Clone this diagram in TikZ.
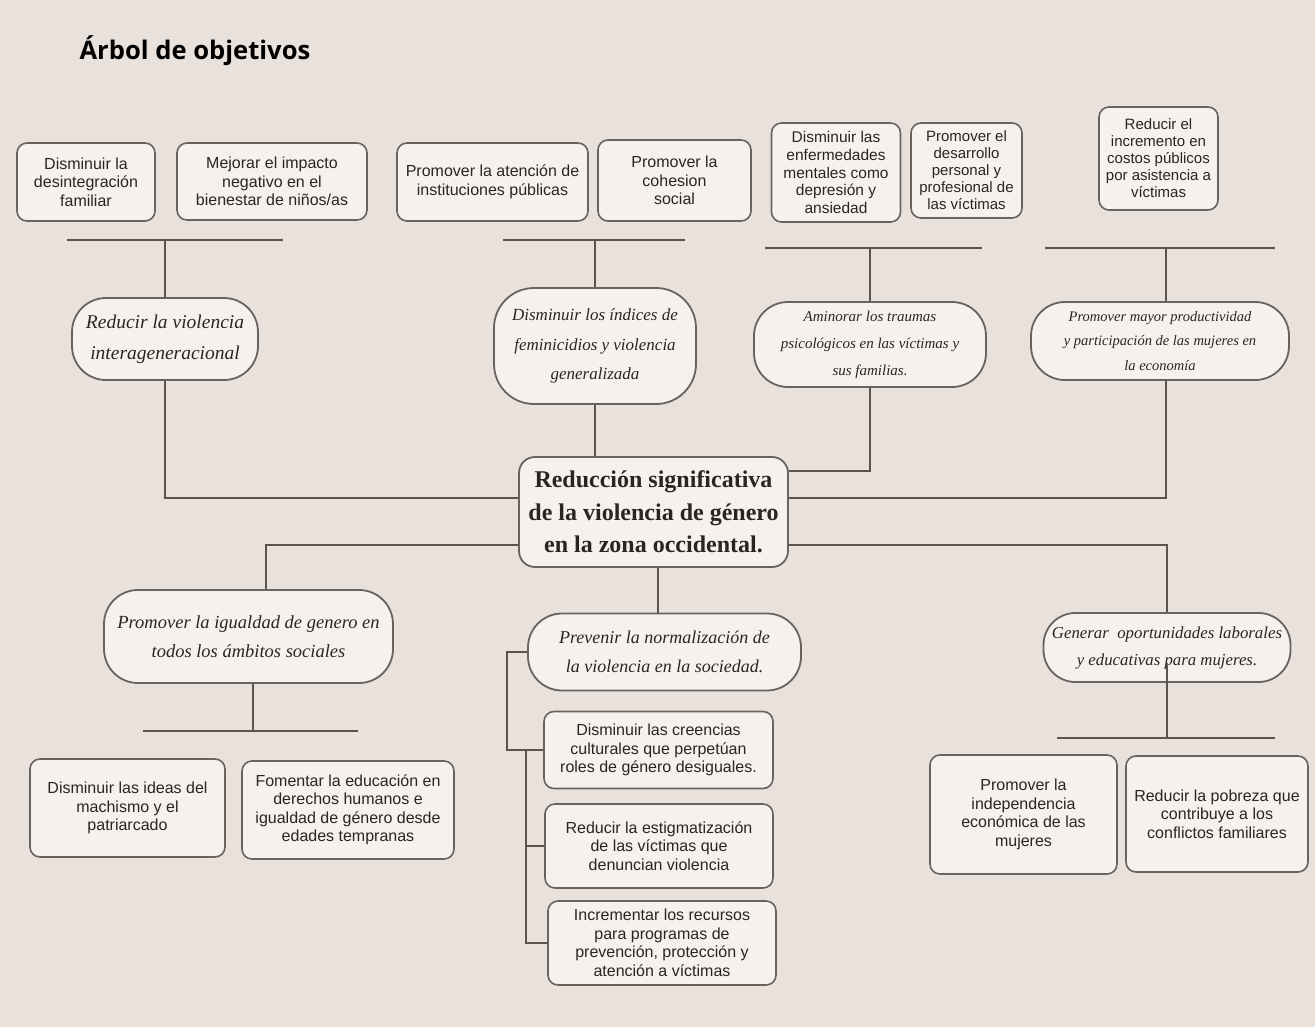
\documentclass[tikz,border=0pt]{standalone}
\usepackage{fontspec}
\setmainfont{Liberation Serif}
\newfontfamily\sansf{Liberation Sans}
\newfontfamily\titlef{Open Sans}
\newcommand\myfs[2]{\fontsize{#1}{#2}\selectfont}
\definecolor{bgc}{HTML}{E8E1DC}
\definecolor{boxc}{HTML}{F5F1EF}
\definecolor{bordc}{HTML}{6A625D}
\definecolor{linec}{HTML}{5B534E}
\definecolor{txtc}{HTML}{2A2522}
\begin{document}
\begin{tikzpicture}[x=1pt,y=-1pt,
  box/.style={draw=bordc, fill=boxc, line width=1.6pt, rounded corners=10pt, align=center, inner sep=0pt, text=txtc, font=\sansf\myfs{16}{18.5}},
  pill/.style={draw=bordc, fill=boxc, line width=1.8pt, rounded corners=34pt, align=center, inner sep=0pt, text=txtc},
  conn/.style={draw=linec, line width=2pt}]
\fill[bgc] (0,0) rectangle (1315,1027);
\useasboundingbox (0,0) rectangle (1315,1027);

\node[anchor=base west, font=\titlef\bfseries\myfs{25.6}{30}, text=black] (title) at (76,60) {Árbol de objetivos};

% top row boxes
\node[box, minimum width=138, minimum height=78] (b1) at (86,182) {Disminuir la\\desintegración\\familiar};
\node[box, minimum width=190, minimum height=77] (b2) at (272,181.5) {Mejorar el impacto\\negativo en el\\bienestar de niños/as};
\node[box, minimum width=191, minimum height=78] (b3) at (492.5,182) {Promover la atención de\\instituciones públicas};
\node[box, minimum width=153, minimum height=81] (b4) at (674.5,180.5) {Promover la\\cohesion\\social};
\node[box, minimum width=129, minimum height=99, font=\sansf\myfs{15.5}{17.8}] (b5) at (836,172.5) {Disminuir las\\enfermedades\\mentales como\\depresión y\\ansiedad};
\node[box, minimum width=111, minimum height=95, font=\sansf\myfs{15}{17}] (b6) at (966.5,170.5) {Promover el\\desarrollo\\personal y\\profesional de\\las víctimas};
\node[box, minimum width=119, minimum height=103, font=\sansf\myfs{15}{17}] (b7) at (1158.5,158.5) {Reducir el\\incremento en\\costos públicos\\por asistencia a\\víctimas};

% middle row pills
\node[pill, minimum width=186, minimum height=82, font=\itshape\myfs{19.5}{31}] (A) at (165,339) {Reducir la violencia\\interageneracional};
\node[pill, minimum width=202, minimum height=116, rounded corners=40pt, font=\itshape\myfs{17}{29.5}] (B) at (595,346) {Disminuir los índices de\\feminicidios y violencia\\generalizada};
\node[pill, minimum width=232, minimum height=85, font=\itshape\myfs{15}{27}] (C) at (870,344.5) {Aminorar los traumas\\psicológicos en las víctimas y\\sus familias.};
\node[pill, minimum width=258, minimum height=78, font=\itshape\myfs{14.5}{24.5}] (D) at (1160,341) {Promover mayor productividad\\y participación de las mujeres en\\la economía};

% center
\node[draw=bordc, fill=boxc, line width=1.8pt, rounded corners=16pt, align=center, inner sep=0pt, text=txtc, minimum width=269, minimum height=110, font=\bfseries\myfs{24}{32.5}] (Z) at (653.5,512) {Reducción significativa\\de la violencia de género\\en la zona occidental.};

% lower pills
\node[pill, minimum width=289, minimum height=93, font=\itshape\myfs{18.5}{29}] (E) at (248.5,636.5) {Promover la igualdad de genero en\\todos los ámbitos sociales};
\node[pill, minimum width=273, minimum height=77, font=\itshape\myfs{18}{29}] (F) at (664.5,652) {Prevenir la normalización de\\la violencia en la sociedad.};
\node[pill, minimum width=247, minimum height=69, rounded corners=32pt, font=\itshape\myfs{16.8}{27}] (G) at (1167,647.5) {Generar\ \ oportunidades laborales\\y educativas para mujeres.};

% bottom boxes
\node[box, minimum width=195, minimum height=98] (H) at (127.5,808) {Disminuir las ideas del\\machismo y el\\patriarcado};
\node[box, minimum width=212, minimum height=98] (I) at (348,810) {Fomentar la educación en\\derechos humanos e\\igualdad de género desde\\edades tempranas};
\node[box, minimum width=187, minimum height=119] (J) at (1023.5,814.5) {Promover la\\independencia\\económica de las\\mujeres};
\node[box, minimum width=182, minimum height=116] (K) at (1217,814) {Reducir la pobreza que\\contribuye a los\\conflictos familiares};
\node[box, minimum width=229, minimum height=77] (L1) at (658.5,750) {Disminuir las creencias\\culturales que perpetúan\\roles de género desiguales.};
\node[box, minimum width=228, minimum height=84] (L2) at (659,846) {Reducir la estigmatización\\de las víctimas que\\denuncian violencia};
\node[box, minimum width=228, minimum height=84] (L3) at (662,943) {Incrementar los recursos\\para programas de\\prevención, protección y\\atención a víctimas};

% bars
\coordinate (bar1l) at (67,240);   \coordinate (bar1r) at (283,240);
\coordinate (bar2l) at (503,240);  \coordinate (bar2r) at (685,240);
\coordinate (bar3l) at (765,248);  \coordinate (bar3r) at (982,248);
\coordinate (bar4l) at (1045,248); \coordinate (bar4r) at (1275,248);
\coordinate (bar5l) at (143,731);  \coordinate (bar5r) at (358,731);
\coordinate (bar6l) at (1057,738); \coordinate (bar6r) at (1275,738);
\foreach \i in {1,...,6} {\draw[conn] (bar\i l) -- (bar\i r);}

\draw[conn] (A.north) -- (A.north|-bar1l);
\draw[conn] (B.north) -- (B.north|-bar2l);
\draw[conn] (C.north) -- (C.north|-bar3l);
\draw[conn] ([xshift=6pt]D.north) -- ([xshift=6pt]D.north|-bar4l);

\draw[conn] (A.south) |- ([yshift=14pt]Z.west);
\draw[conn] (B.south) -- (B.south|-Z.north);
\draw[conn] (C.south) |- ([yshift=41pt]Z.east);
\draw[conn] ([xshift=6pt]D.south) |- ([yshift=14pt]Z.east);

\draw[conn] ([yshift=-33pt]Z.west) -| ([xshift=17.5pt]E.north);
\draw[conn] ([xshift=4.5pt]Z.south) -- ([xshift=4.5pt]Z.south|-F.north);
\draw[conn] ([yshift=-33pt]Z.east) -| (G.north);

\draw[conn] ([xshift=4.5pt]E.south) -- ([xshift=4.5pt]E.south|-bar5l);
\draw[conn] ([yshift=20pt]G.south) -- (G.south|-bar6l);

\coordinate (fk) at (507,750);
\coordinate (fk2) at (526,750);
\draw[conn] (F.west) -| (fk) -- (L1.west);
\draw[conn] (fk2) |- (L2.west);
\draw[conn] (fk2) |- (L3.west);
\end{tikzpicture}
\end{document}
